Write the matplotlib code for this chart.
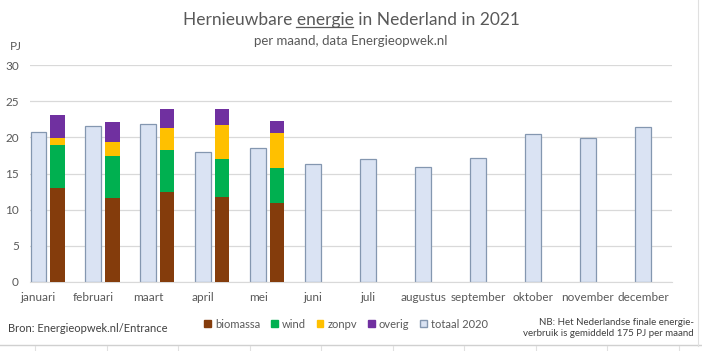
import numpy as np
import matplotlib.pyplot as plt
from matplotlib.patches import Patch
from matplotlib.lines import Line2D

plt.rcParams['font.family'] = ['Lato', 'DejaVu Sans']

maanden = ["januari", "februari", "maart", "april", "mei", "juni", "juli",
           "augustus", "september", "oktober", "november", "december"]
totaal_2020 = [20.7, 21.6, 21.8, 18.0, 18.5, 16.3, 17.0, 15.9, 17.1, 20.5, 19.9, 21.4]

# 2021, PJ per maand (jan t/m mei)
biomassa = [13.0, 11.6, 12.5, 11.7, 10.9]
wind = [5.9, 5.8, 5.8, 5.3, 4.8]
zonpv = [1.0, 2.0, 3.0, 4.7, 4.9]
overig = [3.2, 2.7, 2.6, 2.2, 1.6]

kleuren = {
    "biomassa": "#843C0C",
    "wind": "#00B050",
    "zonpv": "#FFC000",
    "overig": "#7030A0",
}
grijs = "#595959"

W, H, DPI = 702, 351, 100
fig = plt.figure(figsize=(W / DPI, H / DPI), dpi=DPI)
ax = fig.add_axes([30 / W, 1 - 282 / H, (672 - 30) / W, (282 - 65) / H])

x = np.arange(len(maanden))
ax.bar(x, totaal_2020, width=0.29, color="#DAE3F3", edgecolor="#8497B0",
       linewidth=0.9, zorder=2)

x21 = x[:len(biomassa)] + 0.34
bottom = np.zeros(len(biomassa))
for naam, waarden in [("biomassa", biomassa), ("wind", wind),
                      ("zonpv", zonpv), ("overig", overig)]:
    ax.bar(x21, waarden, width=0.27, bottom=bottom, color=kleuren[naam],
           linewidth=0, zorder=3)
    bottom += np.array(waarden)

ax.set_ylim(0, 30)
ax.set_xlim(-0.155, 11.53)
ax.set_yticks(range(0, 31, 5))
ax.set_xticks(x)
ax.set_xticklabels(maanden)
ax.tick_params(length=0, colors=grijs, labelsize=8.5)
ax.tick_params(axis="x", pad=7)
ax.tick_params(axis="y", pad=8)
ax.grid(axis="y", color="#D9D9D9", linewidth=0.9, zorder=0)
for s in ["top", "right", "left"]:
    ax.spines[s].set_visible(False)
ax.spines["bottom"].set_color("#D9D9D9")

# titel met onderstreept woord
t_full = "Hernieuwbare energie in Nederland in 2021"
tsize = 12.5
title = fig.text(0.5, 1 - 20 / H, t_full, ha="center", va="center",
                 fontsize=tsize, color=grijs)
fig.canvas.draw()
r = fig.canvas.get_renderer()
bb = title.get_window_extent(r)
pre = fig.text(0, 0, "Hernieuwbare ", fontsize=tsize)
woord = fig.text(0, 0, "energie", fontsize=tsize)
w_pre = pre.get_window_extent(r).width
w_woord = woord.get_window_extent(r).width
pre.remove()
woord.remove()
x0 = (bb.x0 + w_pre) / W
x1 = (bb.x0 + w_pre + w_woord) / W
y_ul = (bb.y0 + 1) / H
fig.add_artist(Line2D([x0, x1], [y_ul, y_ul], color=grijs, linewidth=0.9))

fig.text(0.5, 1 - 41 / H, "per maand, data Energieopwek.nl", ha="center",
         va="center", fontsize=9.5, color=grijs)
fig.text(10 / W, 1 - 47 / H, "PJ", ha="left", va="center", fontsize=8.5,
         color=grijs)

handles = [Patch(facecolor=kleuren[k], edgecolor=kleuren[k], label=k)
           for k in ["biomassa", "wind", "zonpv", "overig"]]
handles.append(Patch(facecolor="#DAE3F3", edgecolor="#8497B0",
                     label="totaal 2020"))
fig.legend(handles=handles, loc="center", bbox_to_anchor=(346 / W, 1 - 324 / H),
           ncol=5, frameon=False, fontsize=8, handlelength=0.6,
           handleheight=0.6, handletextpad=0.35, columnspacing=1.0,
           labelcolor=grijs)

fig.text(8 / W, 1 - 329 / H, "Bron: Energieopwek.nl/Entrance", ha="left",
         va="center", fontsize=8, color="#404040")
fig.text(694 / W, 1 - 328 / H,
         "NB: Het Nederlandse finale energie-\nverbruik is gemiddeld 175 PJ per maand",
         ha="right", va="center", fontsize=7, color="#404040",
         multialignment="right", linespacing=1.4)

# celranden van het werkblad
fig.add_artist(Line2D([0, 1], [1 - 345 / H] * 2, color="#D0D0D0", linewidth=1))
for xv in [35, 107, 178, 250, 321, 393, 464, 536, 607, 679]:
    fig.add_artist(Line2D([xv / W] * 2, [0, 1 - 346 / H], color="#E0E0E0",
                          linewidth=0.8))
fig.add_artist(Line2D([698 / W] * 2, [1 - 346 / H, 1], color="#E0E0E0",
                      linewidth=0.8))

fig.savefig("out.png", dpi=DPI)
